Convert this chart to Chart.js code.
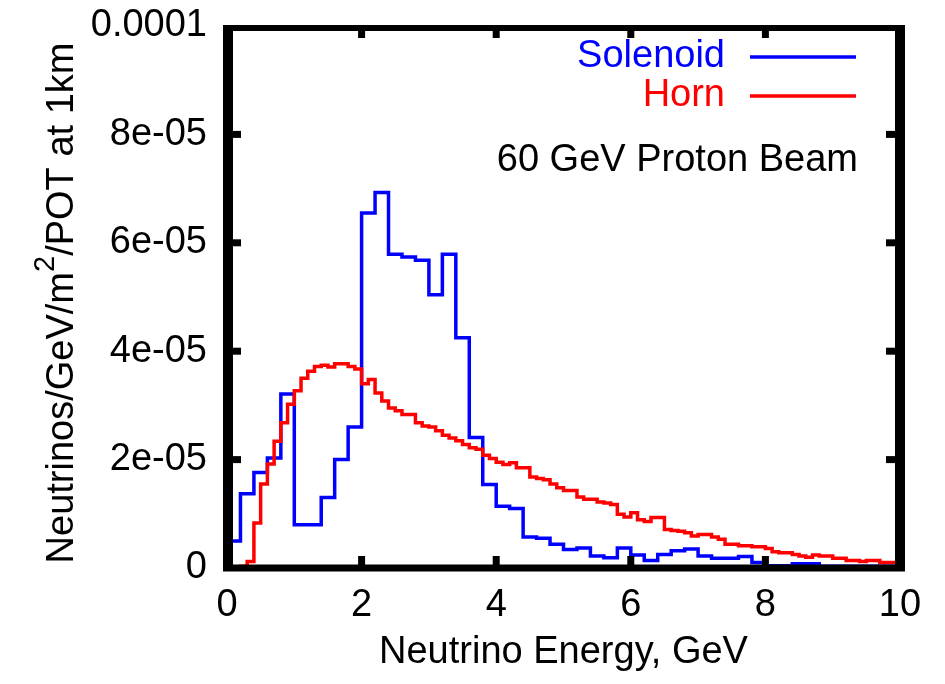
<!DOCTYPE html>
<html>
<head>
<meta charset="utf-8">
<script src="https://cdn.jsdelivr.net/npm/chart.js@4.4.1/dist/chart.umd.min.js"></script>
<style>
  html, body { margin: 0; padding: 0; background: #fff; }
</style>
</head>
<body>
<canvas id="fluxChart" width="945" height="684"></canvas>
<script>
// flux per bin, in units of 1e-5 neutrinos/GeV/m^2/POT at 1km
var yUnit = 1e-5;

var solenoidBinWidth = 0.2;   // GeV
var solenoidFlux = [
    0.50, 1.37, 1.76, 2.03, 3.21, 0.80, 0.80, 1.30, 2.00, 2.60,
    6.55, 6.93, 5.79, 5.74, 5.68, 5.04, 5.79, 4.25, 2.41, 1.54,
    1.14, 1.10, 0.57, 0.55, 0.44, 0.34, 0.37, 0.22, 0.19, 0.37,
    0.24, 0.14, 0.25, 0.32, 0.35, 0.22, 0.18, 0.18, 0.21, 0.10,
    0.04, 0.04, 0.08, 0.08, 0.03, 0.03, 0.03, 0.03, 0.03, 0.03
];

var hornBinWidth = 0.1;   // GeV
var hornFlux = [
    0.00, 0.01, 0.03, 0.12, 0.83, 1.55, 1.92, 2.34, 2.68, 3.02,
    3.27, 3.50, 3.63, 3.72, 3.74, 3.71, 3.77, 3.77, 3.72, 3.67,
    3.40, 3.48, 3.23, 3.08, 2.95, 2.90, 2.83, 2.83, 2.68, 2.62,
    2.60, 2.53, 2.45, 2.40, 2.35, 2.28, 2.22, 2.19, 2.08, 2.02,
    1.95, 1.91, 1.94, 1.85, 1.85, 1.68, 1.65, 1.63, 1.55, 1.48,
    1.43, 1.43, 1.31, 1.27, 1.27, 1.22, 1.20, 1.17, 0.99, 0.94,
    1.02, 0.89, 0.86, 0.93, 0.93, 0.71, 0.69, 0.68, 0.65, 0.59,
    0.62, 0.62, 0.57, 0.53, 0.44, 0.44, 0.41, 0.41, 0.39, 0.39,
    0.36, 0.30, 0.28, 0.28, 0.25, 0.22, 0.20, 0.24, 0.22, 0.22,
    0.18, 0.18, 0.14, 0.14, 0.12, 0.14, 0.14, 0.10, 0.10, 0.10
];

var seriesNames = ['Solenoid', 'Horn'];
var seriesColors = ['#0000ff', '#ff0000'];
var xTickLabels = ['0', '2', '4', '6', '8', '10'];
var yTickLabels = ['0', '2e-05', '4e-05', '6e-05', '8e-05', '0.0001'];
var xTitle = 'Neutrino Energy, GeV';
var yTitleParts = ['Neutrinos/GeV/m', '2', '/POT at 1km'];
var beamNote = '60 GeV Proton Beam';

var fontFamily = '"Liberation Sans", Arial, Helvetica, sans-serif';
var fontSize = 38;


/**
 *  Turns a list of bin contents into points for a stepped line.
 */
function histogramPoints(values, binWidth) {
    var points = [{x: 0, y: 0}];
    values.forEach(function(v, i) {
        points.push({x: i * binWidth, y: v * yUnit});
    });
    points.push({x: values.length * binWidth, y: values[values.length - 1] * yUnit});
    return points;
}


/**
 *  Draws the thick gnuplot style border with inward tick marks.
 */
var borderPlugin = {
    id: 'border',
    afterDatasetsDraw: function(chart) {
        var ctx = chart.ctx;
        var a = chart.chartArea;
        var xs = chart.scales.x;
        var ys = chart.scales.y;
        ctx.save();
        ctx.strokeStyle = '#000';
        ctx.lineCap = 'butt';

        function line(x1, y1, x2, y2, w) {
            ctx.lineWidth = w;
            ctx.beginPath();
            ctx.moveTo(x1, y1);
            ctx.lineTo(x2, y2);
            ctx.stroke();
        }

        line(a.left - 4, a.top + 2, a.right + 5, a.top + 2, 6);
        line(a.left - 4, a.bottom, a.right + 5, a.bottom, 7);
        line(a.left + 1, a.top - 1, a.left + 1, a.bottom + 3, 10);
        line(a.right, a.top - 1, a.right, a.bottom + 3, 10);

        xs.ticks.forEach(function(t) {
            if (t.value <= xs.min || t.value >= xs.max) return;
            var px = xs.getPixelForValue(t.value);
            line(px, a.bottom, px, a.bottom - 12, 7);
            line(px, a.top, px, a.top + 12, 7);
        });
        ys.ticks.forEach(function(t) {
            if (t.value <= ys.min || t.value >= ys.max) return;
            var py = ys.getPixelForValue(t.value);
            line(a.left, py, a.left + 14, py, 7);
            line(a.right, py, a.right - 14, py, 7);
        });
        ctx.restore();
    }
};


/**
 *  Draws the key (text, then line sample), the beam note and the y title.
 */
var keyPlugin = {
    id: 'key',
    afterDraw: function(chart) {
        var ctx = chart.ctx;
        var a = chart.chartArea;
        ctx.save();
        ctx.font = fontSize + 'px ' + fontFamily;
        ctx.textBaseline = 'middle';
        ctx.textAlign = 'right';

        var rows = [57, 96];
        seriesNames.forEach(function(name, i) {
            ctx.fillStyle = seriesColors[i];
            ctx.fillText(name, 725, rows[i]);
            ctx.strokeStyle = seriesColors[i];
            ctx.lineWidth = 3.5;
            ctx.beginPath();
            ctx.moveTo(750, rows[i]);
            ctx.lineTo(856, rows[i]);
            ctx.stroke();
        });

        ctx.fillStyle = '#000';
        ctx.fillText(beamNote, 858, 161);

        // rotated y axis title with a raised 2
        ctx.translate(73, (a.top + a.bottom) / 2 + 6);
        ctx.rotate(-Math.PI / 2);
        ctx.textBaseline = 'alphabetic';
        ctx.textAlign = 'left';
        var small = Math.round(fontSize * 0.75);
        var w0 = ctx.measureText(yTitleParts[0]).width;
        ctx.font = small + 'px ' + fontFamily;
        var w1 = ctx.measureText(yTitleParts[1]).width;
        ctx.font = fontSize + 'px ' + fontFamily;
        var w2 = ctx.measureText(yTitleParts[2]).width;
        var x0 = -(w0 + w1 + w2) / 2;
        ctx.fillText(yTitleParts[0], x0, 0);
        ctx.font = small + 'px ' + fontFamily;
        ctx.fillText(yTitleParts[1], x0 + w0, -19);
        ctx.font = fontSize + 'px ' + fontFamily;
        ctx.fillText(yTitleParts[2], x0 + w0 + w1, 0);
        ctx.restore();
    }
};


var fluxChart = new Chart(document.getElementById('fluxChart').getContext('2d'), {
    type: 'line',
    data: {
        datasets: [{
            label: seriesNames[0],
            data: histogramPoints(solenoidFlux, solenoidBinWidth),
            borderColor: seriesColors[0],
            order: 1
        }, {
            label: seriesNames[1],
            data: histogramPoints(hornFlux, hornBinWidth),
            borderColor: seriesColors[1],
            order: 0
        }]
    },
    options: {
        responsive: false,
        animation: false,
        devicePixelRatio: 1,
        layout: { padding: { left: 0, right: 45, top: 26, bottom: 0 } },
        elements: {
            point: { radius: 0 },
            line: { borderWidth: 3.5, stepped: true, fill: false, tension: 0 }
        },
        plugins: {
            legend: { display: false },
            tooltip: { enabled: false }
        },
        scales: {
            x: {
                type: 'linear',
                min: 0,
                max: 10,
                grid: { display: false, drawTicks: false },
                border: { display: false },
                ticks: {
                    stepSize: 2,
                    padding: 15,
                    maxRotation: 0,
                    color: '#000',
                    font: { family: fontFamily, size: fontSize },
                    callback: function(value, index) { return xTickLabels[index]; }
                },
                title: {
                    display: true,
                    text: xTitle,
                    color: '#000',
                    padding: { top: 0, bottom: 9 },
                    font: { family: fontFamily, size: fontSize }
                },
                afterFit: function(scale) {
                    scale.height = 116;
                    scale.paddingLeft = 0;
                    scale.paddingRight = 0;
                }
            },
            y: {
                type: 'linear',
                min: 0,
                max: 0.0001,
                grid: { display: false, drawTicks: false },
                border: { display: false },
                ticks: {
                    stepSize: 0.00002,
                    padding: 20,
                    color: '#000',
                    font: { family: fontFamily, size: fontSize },
                    callback: function(value, index) { return yTickLabels[index]; }
                },
                afterFit: function(scale) {
                    scale.width = 227;
                    scale.paddingTop = 0;
                    scale.paddingBottom = 0;
                }
            }
        }
    },
    plugins: [borderPlugin, keyPlugin]
});
</script>
</body>
</html>
